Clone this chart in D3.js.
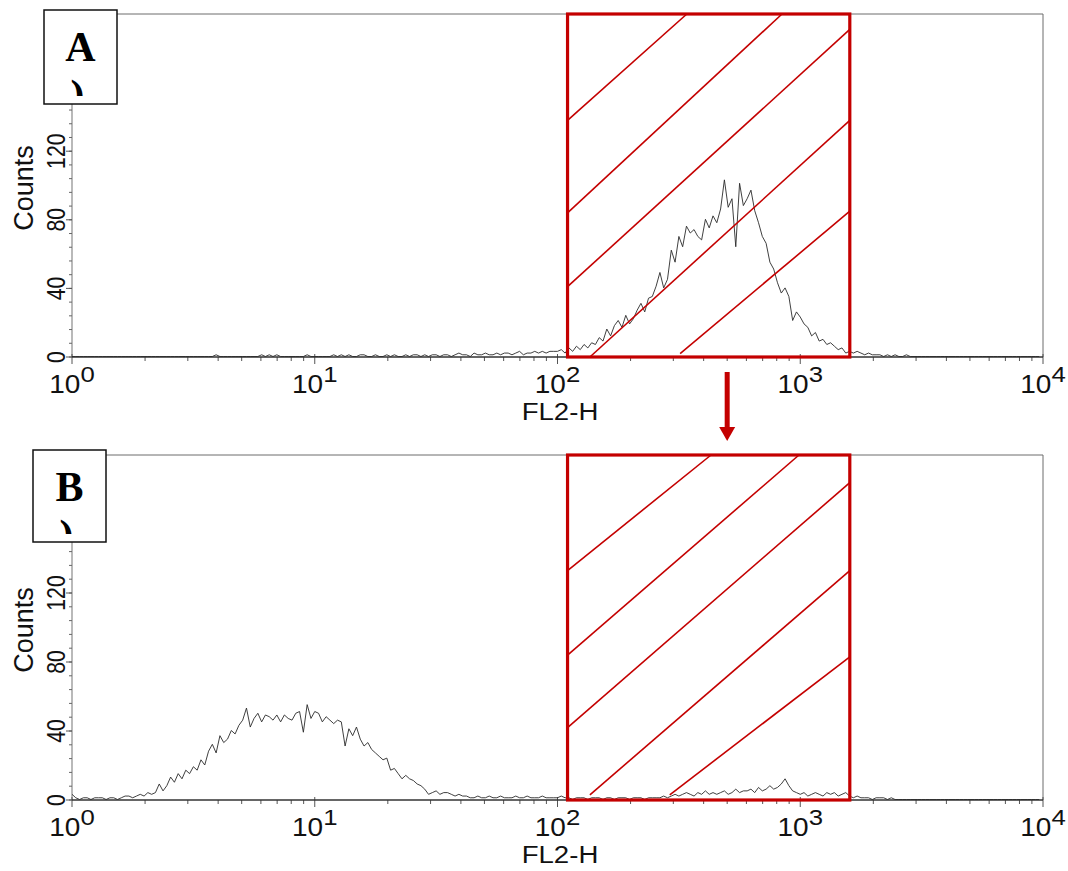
<!DOCTYPE html>
<html>
<head>
<meta charset="utf-8">
<script src="https://cdn.jsdelivr.net/npm/d3@7"></script>
<style>
  body { margin: 0; background: #fff; }
  svg { display: block; }
</style>
</head>
<body>
<div id="vis"></div>
<script>
// FL2-H histograms, 256 bins (4 of the 1024 channels each) over 4 log decades
var countsA = [
  0,0,0,0,0,0,0,0,0,0,0,0,0,0,0,0,
  0,0,0,0,0,0,0,0,0,0,0,0,0,0,0,0,
  0,0,0,0,0,0,1,0,0,0,0,0,0,0,0,0,
  0,0,1,0,1,0,1,0,0,0,0,0,0,0,1,0,
  0,0,0,0,0,1,0,1,0,1,0,0,1,1,0,0,
  1,0,0,1,0,1,0,0,1,0,1,1,0,1,0,1,
  1,0,1,1,0,1,2,1,1,0,2,1,1,2,1,1,
  2,1,2,2,1,2,3,1,2,2,3,2,3,2,3,3,
  3,4,2,5,3,6,4,7,5,8,7,11,9,16,12,18,
  21,17,24,19,22,27,31,26,34,35,41,49,40,45,62,55,
  70,64,76,72,74,70,68,80,75,82,78,86,103,87,92,64,
  101,88,92,97,85,78,70,66,55,51,43,37,40,35,21,26,
  23,19,17,12,14,9,10,7,8,6,4,5,2,3,2,3,
  2,1,2,1,1,1,0,1,0,1,0,0,1,0,0,0,
  0,0,0,0,0,0,0,0,0,0,0,0,0,0,0,0,
  0,0,0,0,0,0,0,0,0,0,0,0,0,0,0,0
];

var countsB = [
  3,1,0,1,1,0,1,1,1,0,1,1,0,1,2,2,
  1,2,3,2,4,3,4,9,5,8,13,10,15,12,17,15,
  19,17,23,20,28,32,27,37,33,35,40,38,43,46,53,42,
  47,50,45,49,48,46,49,45,49,47,46,50,51,39,55,47,
  51,50,45,48,46,44,46,45,31,41,37,42,35,31,33,29,
  27,25,23,24,17,18,15,12,14,12,11,9,8,6,3,4,
  5,3,4,4,3,2,3,2,2,1,1,2,1,1,2,1,
  1,2,1,1,1,2,1,1,2,1,1,1,2,1,1,1,
  1,2,1,1,0,1,1,1,0,1,1,1,0,1,1,0,
  1,1,1,0,1,1,1,0,1,1,1,1,2,1,2,3,
  2,3,4,3,2,4,3,5,3,4,3,4,5,3,4,6,
  4,5,5,6,4,7,5,6,8,6,7,9,12,8,5,4,
  3,4,2,3,4,3,2,4,3,4,2,3,4,2,1,2,
  1,1,1,0,1,1,1,0,1,0,0,0,0,0,0,0,
  0,0,0,0,0,0,0,0,0,0,0,0,0,0,0,0,
  0,0,0,0,0,0,0,0,0,0,0,0,0,0,0,0
];

var binsPerDecade = 64;
var xDomain = [1, 10000];
var yDomain = [0, 200];
var yMajor = [0, 40, 80, 120];
var yMinorStep = 8;
var xLabel = "FL2-H";
var yLabel = "Counts";
var panelLabels = ["A", "B"];

// gate (marker region) on FL2-H
var gate = [110, 1600];

// hatch strokes inside the gate: [[FL2-H, count], [FL2-H, count]]
var hatchA = [
  [[110, 138], [341, 200]],
  [[110, 84], [841, 200]],
  [[110, 41], [1600, 191]],
  [[136, 0], [1600, 138]],
  [[320, 2], [1600, 85]]
];
var hatchB = [
  [[110, 133], [429, 200]],
  [[110, 84], [988, 200]],
  [[110, 42], [1600, 184]],
  [[136, 3], [1600, 133]],
  [[290, 3], [1600, 83]]
];

// arrow from gate A to gate B, at this FL2-H value
var arrowAt = 500;

var width = 1068, height = 871;
var red = "#c40000";
var sans = "'Liberation Sans', Arial, Helvetica, sans-serif";
var serif = "'Liberation Serif', 'Times New Roman', serif";

var panels = [
  { label: panelLabels[0], counts: countsA, hatch: hatchA, top: 14, bottom: 357,
    box: { x: 44, y: 10, w: 73, h: 94 } },
  { label: panelLabels[1], counts: countsB, hatch: hatchB, top: 455, bottom: 800,
    box: { x: 33, y: 450, w: 73, h: 92 } }
];

var x = d3.scaleLog().domain(xDomain).range([72, 1043]);

var svg = d3.select('#vis').append('svg')
  .attr('width', width)
  .attr('height', height);

panels.forEach(function (p, pi) { drawPanel(p, pi); });

// arrow between the two gates
var arrowX = x(arrowAt);
var arrowTop = panels[0].bottom + 15, arrowBottom = panels[1].top - 14;
svg.append('line')
  .attr('x1', arrowX).attr('x2', arrowX)
  .attr('y1', arrowTop).attr('y2', arrowBottom - 13)
  .attr('stroke', red).attr('stroke-width', 5);
svg.append('path')
  .attr('d', 'M' + (arrowX - 8) + ',' + (arrowBottom - 14) + 'L' + (arrowX + 8) + ',' + (arrowBottom - 14) +
    'L' + arrowX + ',' + arrowBottom + 'Z')
  .attr('fill', red);

function drawPanel(p, pi) {
  var y = d3.scaleLinear().domain(yDomain).range([p.bottom, p.top]);
  var g = svg.append('g').attr('class', 'panel');
  var x0 = x.range()[0], x1 = x.range()[1];

  // top + right frame
  g.append('path')
    .attr('d', 'M' + x0 + ',' + p.top + 'H' + x1 + 'V' + p.bottom)
    .attr('fill', 'none').attr('stroke', '#6d6d6d').attr('stroke-width', 1);

  // y axis
  g.append('line')
    .attr('x1', x0).attr('x2', x0).attr('y1', p.bottom).attr('y2', p.top)
    .attr('stroke', '#8a8a8a').attr('stroke-width', 1.2);

  g.selectAll('.yminor')
    .data(d3.range(yDomain[0], yDomain[1], yMinorStep))
    .enter().append('line')
    .attr('x1', x0 - 3).attr('x2', x0)
    .attr('y1', function (d) { return y(d); }).attr('y2', function (d) { return y(d); })
    .attr('stroke', '#666').attr('stroke-width', 1);

  g.selectAll('.ymajor')
    .data(yMajor)
    .enter().append('line')
    .attr('x1', x0 - 6).attr('x2', x0)
    .attr('y1', function (d) { return y(d); }).attr('y2', function (d) { return y(d); })
    .attr('stroke', '#555').attr('stroke-width', 1);

  g.selectAll('.ylab')
    .data(yMajor)
    .enter().append('text')
    .attr('transform', function (d) { return 'translate(65,' + y(d) + ') rotate(-90) scale(0.85,1)'; })
    .attr('text-anchor', 'middle')
    .style('font-family', sans).style('font-size', '25px').attr('fill', '#111')
    .text(function (d) { return d; });

  g.append('text')
    .attr('transform', 'translate(33,' + (p.top + p.bottom) / 2 * 1.0 + ') translate(0,' + (188 - (14 + 357) / 2) + ') rotate(-90)')
    .attr('text-anchor', 'middle')
    .style('font-family', sans).style('font-size', '27px').attr('fill', '#111')
    .text(yLabel);

  // x axis ticks (log: decades + 2..9)
  var ticks = x.ticks();
  g.selectAll('.xtick')
    .data(ticks)
    .enter().append('line')
    .attr('x1', function (d) { return x(d); }).attr('x2', function (d) { return x(d); })
    .attr('y1', function (d) { return isDecade(d) ? p.bottom - 3 : p.bottom; })
    .attr('y2', function (d) { return isDecade(d) ? p.bottom + 7 : p.bottom + 4; })
    .attr('stroke', '#555').attr('stroke-width', 1);

  var labs = g.selectAll('.xlab')
    .data(ticks.filter(isDecade))
    .enter().append('text')
    .attr('transform', function (d) { return 'translate(' + x(d) + ',' + (p.bottom + 36) + ') scale(1.12,1)'; })
    .attr('text-anchor', 'middle')
    .style('font-family', sans).style('font-size', '25px').attr('fill', '#111');
  labs.append('tspan').text('10');
  labs.append('tspan')
    .attr('dy', -11).style('font-size', '23px')
    .text(function (d) { return Math.round(Math.log10(d)); });

  g.append('text')
    .attr('transform', 'translate(560,' + (p.bottom + 63) + ') scale(1.15,1)')
    .attr('text-anchor', 'middle')
    .style('font-family', sans).style('font-size', '24px').attr('fill', '#111')
    .text(xLabel);

  // bottom axis line
  g.append('line')
    .attr('x1', x0).attr('x2', x1).attr('y1', p.bottom).attr('y2', p.bottom)
    .attr('stroke', '#333').attr('stroke-width', 1.5);

  // histogram trace
  var line = d3.line()
    .x(function (d, i) { return x(Math.pow(10, i / binsPerDecade)); })
    .y(function (d) { return y(d) - 0.5; });

  g.append('path')
    .datum(p.counts)
    .attr('fill', 'none')
    .attr('stroke', '#2a2a2a')
    .attr('stroke-width', 0.9)
    .attr('stroke-linejoin', 'round')
    .attr('d', line);

  // gate with hatching
  g.selectAll('.hatch')
    .data(p.hatch)
    .enter().append('line')
    .attr('x1', function (d) { return x(d[0][0]); })
    .attr('y1', function (d) { return y(d[0][1]); })
    .attr('x2', function (d) { return x(d[1][0]); })
    .attr('y2', function (d) { return y(d[1][1]); })
    .attr('stroke', red).attr('stroke-width', 1.6);

  g.append('rect')
    .attr('x', x(gate[0])).attr('y', y(yDomain[1]))
    .attr('width', x(gate[1]) - x(gate[0]))
    .attr('height', y(yDomain[0]) - y(yDomain[1]))
    .attr('fill', 'none').attr('stroke', red).attr('stroke-width', 3.2);

  // panel label box
  var b = p.box;
  var clipId = 'clip' + pi;
  svg.append('clipPath').attr('id', clipId)
    .append('rect').attr('x', b.x).attr('y', b.y).attr('width', b.w).attr('height', b.h - 8);

  var lb = svg.append('g');
  lb.append('rect')
    .attr('x', b.x).attr('y', b.y).attr('width', b.w).attr('height', b.h)
    .attr('fill', '#fff').attr('stroke', '#111').attr('stroke-width', 1.5);
  lb.append('text')
    .attr('x', b.x + b.w / 2).attr('y', b.y + 51)
    .attr('text-anchor', 'middle')
    .style('font-family', serif).style('font-size', '42px').style('font-weight', 'bold')
    .attr('fill', '#000')
    .text(p.label);
  lb.append('text')
    .attr('clip-path', 'url(#' + clipId + ')')
    .attr('x', b.x + b.w / 2 - 10).attr('y', b.y + 99)
    .style('font-family', serif).style('font-size', '42px').style('font-weight', 'bold')
    .attr('fill', '#000')
    .text(')');
}

function isDecade(d) {
  var l = Math.log10(d);
  return Math.abs(l - Math.round(l)) < 1e-9;
}
</script>
</body>
</html>
